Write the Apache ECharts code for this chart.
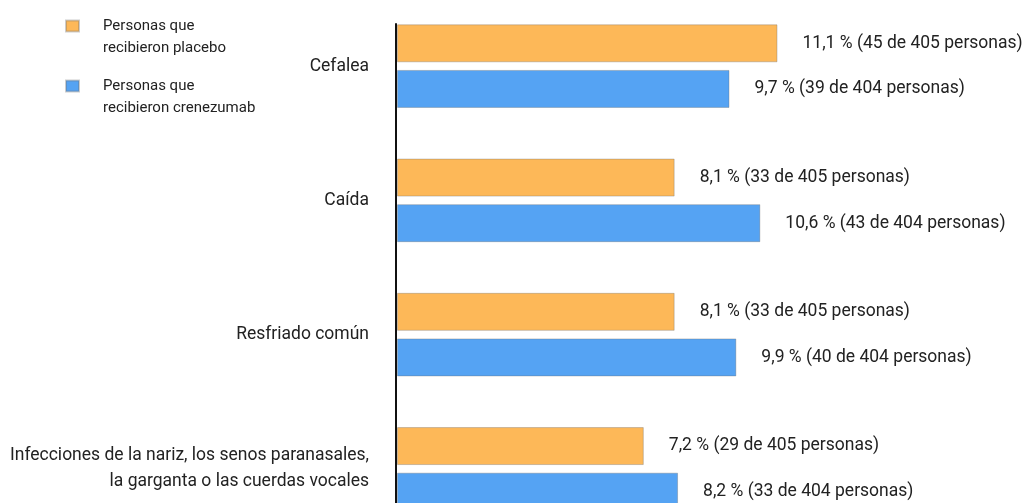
<!DOCTYPE html>
<html>
<head>
<meta charset="utf-8">
<script src="https://cdn.jsdelivr.net/npm/echarts@6/dist/echarts.min.js"></script>
<style>
html,body{margin:0;padding:0;background:#fff;}
#chart{width:1026px;height:503px;}
</style>
</head>
<body>
<div id="chart"></div>
<script>
const categories = [
  'Cefalea',
  'Caída',
  'Resfriado común',
  'Infecciones de la nariz, los senos paranasales,\nla garganta o las cuerdas vocales'
];
const placeboPct = [11.1, 8.1, 8.1, 7.2];
const placeboCount = [45, 33, 33, 29];
const placeboTotal = 405;
const crenePct = [9.7, 10.6, 9.9, 8.2];
const creneCount = [39, 43, 40, 33];
const creneTotal = 404;
const seriesNames = ['Personas que\nrecibieron placebo', 'Personas que\nrecibieron crenezumab'];

const FONT = 'Roboto, "Liberation Sans", sans-serif';
function fmt(pct, count, total) {
  return pct.toFixed(1).replace('.', ',') + ' % (' + count + ' de ' + total + ' personas)';
}

const chart = echarts.init(document.getElementById('chart'), null, {renderer: 'canvas'});
chart.setOption({
  animation: false,
  backgroundColor: '#ffffff',
  textStyle: {fontFamily: FONT},
  legend: {
    orient: 'vertical',
    left: 65,
    top: -7,
    padding: 0,
    itemGap: -6,
    itemWidth: 13,
    itemHeight: 11,
    icon: 'rect',
    selectedMode: false,
    data: seriesNames,
    formatter: name => '\n' + name,
    textStyle: {
      fontFamily: FONT,
      fontSize: 15,
      color: '#222',
      lineHeight: 22,
      padding: [0, 0, 0, 19]
    }
  },
  grid: [
    {left: 397, top: -1, height: 537, width: 617, outerBoundsMode: 'none', containLabel: false},
    {left: 396, top: 24, height: 520, width: 1, outerBoundsMode: 'none', containLabel: false}
  ],
  xAxis: [
    {type: 'value', gridIndex: 0, min: 0, max: 18, show: false},
    {type: 'value', gridIndex: 1, min: 0, max: 1, show: false}
  ],
  yAxis: [
    {
      type: 'category',
      gridIndex: 0,
      inverse: true,
      data: categories,
      axisLine: {show: false},
      axisTick: {show: false},
      splitLine: {show: false},
      axisLabel: {
        margin: 28,
        fontFamily: FONT,
        fontSize: 17.5,
        color: '#222',
        lineHeight: 26,
        align: 'right'
      }
    },
    {
      type: 'value',
      gridIndex: 1,
      min: 0,
      max: 1,
      axisLine: {show: true, lineStyle: {color: '#111', width: 2}},
      axisTick: {show: false},
      axisLabel: {show: false},
      splitLine: {show: false}
    }
  ],
  series: [
    {
      name: seriesNames[0],
      type: 'bar',
      xAxisIndex: 0,
      yAxisIndex: 0,
      data: placeboPct,
      barWidth: 38,
      barGap: '20%',
      itemStyle: {color: '#FDB858', borderColor: 'rgba(110,110,110,0.35)', borderWidth: 1},
      label: {
        show: true,
        position: 'right',
        distance: 25,
        fontFamily: FONT,
        fontSize: 17.5,
        color: '#222',
        formatter: p => fmt(placeboPct[p.dataIndex], placeboCount[p.dataIndex], placeboTotal)
      }
    },
    {
      name: seriesNames[1],
      type: 'bar',
      xAxisIndex: 0,
      yAxisIndex: 0,
      data: crenePct,
      barWidth: 38,
      barGap: '20%',
      itemStyle: {color: '#55A3F3', borderColor: 'rgba(110,110,110,0.35)', borderWidth: 1},
      label: {
        show: true,
        position: 'right',
        distance: 25,
        fontFamily: FONT,
        fontSize: 17.5,
        color: '#222',
        formatter: p => fmt(crenePct[p.dataIndex], creneCount[p.dataIndex], creneTotal)
      }
    }
  ]
});
</script>
</body>
</html>
